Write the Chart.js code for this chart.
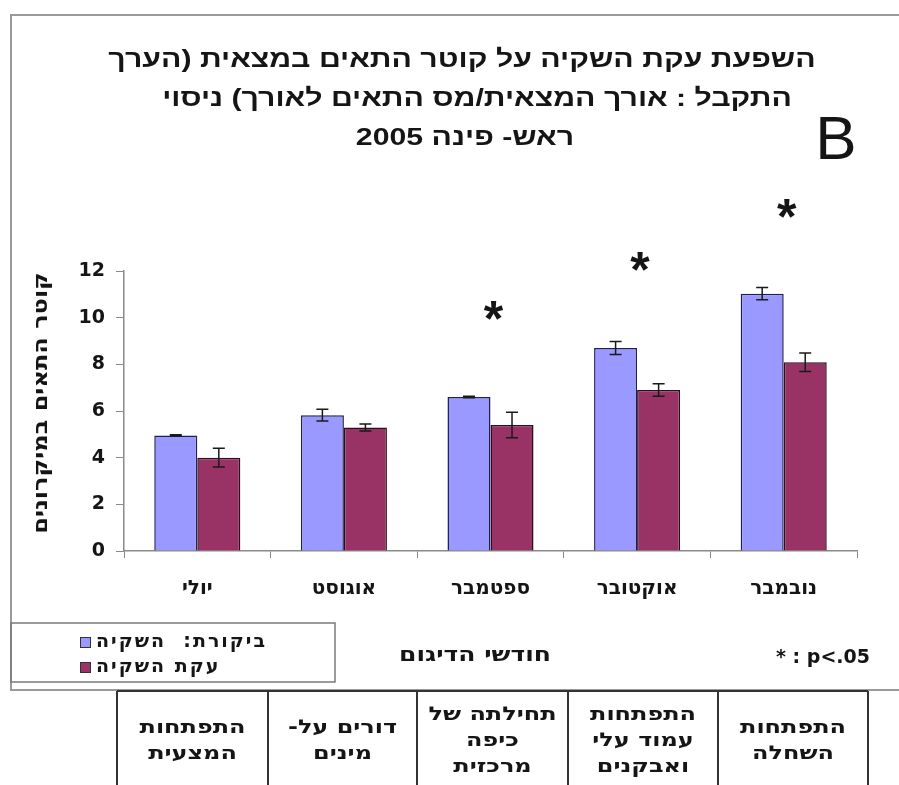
<!DOCTYPE html>
<html>
<head>
<meta charset="utf-8">
<script src="https://cdn.jsdelivr.net/npm/chart.js@4.4.1/dist/chart.umd.min.js"></script>
<style>
  html, body { margin: 0; padding: 0; background: #ffffff; }
  canvas { display: block; }
</style>
</head>
<body>
<canvas id="chart" width="899" height="785"></canvas>
<script>
// Sampling months (x categories)
const months = ['יולי', 'אוגוסט', 'ספטמבר', 'אוקטובר', 'נובמבר'];

// Series names
const seriesNames = ['ביקורת:  השקיה', 'עקת השקיה'];

// Cell diameter (microns): means and standard errors
const controlMeans = [4.95, 5.82, 6.6, 8.7, 11.03];
const controlErrors = [0.03, 0.25, 0.03, 0.28, 0.26];
const stressMeans = [4.0, 5.29, 5.4, 6.9, 8.09];
const stressErrors = [0.4, 0.15, 0.55, 0.27, 0.4];

// Height (in axis units) of the significance asterisk for each month
const significanceLevels = [null, null, 10.3, 12.4, 14.7];

// Y axis range
const yMin = 0;
const yMax = 12;
const yStep = 2;

// Texts
const titleLines = [
  'השפעת עקת השקיה על קוטר התאים במצאית (הערך',
  'התקבל : אורך המצאית/מס התאים לאורך) ניסוי',
  'ראש- פינה 2005'
];
const panelLetter = 'B';
const yTitle = 'קוטר התאים במיקרונים';
const xTitle = 'חודשי הדיגום';
const significanceNote = '* : p<.05';

// Developmental stage under each month
const stageLabels = [
  ['התפתחות', 'המצעית'],
  ['דורים על-', 'מינים'],
  ['תחילתה של', 'כיפה', 'מרכזית'],
  ['התפתחות', 'עמוד עלי', 'ואבקנים'],
  ['התפתחות', 'השחלה']
];

const seriesColors = ['#9999FF', '#993366'];
const seriesBorders = ['#1f1f55', '#2b0d1d'];
const errorSets = [controlErrors, stressErrors];

const WIDE = '"DejaVu Sans", sans-serif';
const ARIAL = '"Liberation Sans", Arial, sans-serif';
const INK = '#151515';
const FRAME = '#9a9a9a';

// Text drawn with a horizontal stretch (the Hebrew face here is wide)
function wideText(ctx, text, x, y, sx) {
  ctx.save();
  ctx.translate(x, y);
  ctx.scale(sx, 1);
  ctx.fillText(text, 0, 0);
  ctx.restore();
}

// Error bars drawn on top of each bar
const errorBarPlugin = {
  id: 'errorBars',
  afterDatasetsDraw(chart) {
    const ctx = chart.ctx;
    const y = chart.scales.y;
    ctx.save();
    ctx.strokeStyle = '#1a1a1a';
    ctx.lineWidth = 1.5;
    chart.data.datasets.forEach((ds, di) => {
      const meta = chart.getDatasetMeta(di);
      meta.data.forEach((bar, i) => {
        const v = ds.data[i];
        const e = errorSets[di][i];
        const top = y.getPixelForValue(v + e);
        const bot = y.getPixelForValue(v - e);
        const cap = 6;
        ctx.beginPath();
        ctx.moveTo(bar.x, top); ctx.lineTo(bar.x, bot);
        ctx.moveTo(bar.x - cap, top); ctx.lineTo(bar.x + cap, top);
        ctx.moveTo(bar.x - cap, bot); ctx.lineTo(bar.x + cap, bot);
        ctx.stroke();
      });
    });
    ctx.restore();
  }
};

// Frame, title, legend, notes and the stage table
const decorPlugin = {
  id: 'decor',
  afterDraw(chart) {
    const ctx = chart.ctx;
    const xs = chart.scales.x;
    const ys = chart.scales.y;
    ctx.save();

    // outer frame
    ctx.strokeStyle = FRAME;
    ctx.lineWidth = 2;
    ctx.beginPath();
    ctx.moveTo(899, 15); ctx.lineTo(11, 15); ctx.lineTo(11, 690); ctx.lineTo(899, 690);
    ctx.stroke();

    // title
    ctx.fillStyle = INK;
    ctx.direction = 'rtl';
    ctx.textAlign = 'center';
    ctx.textBaseline = 'alphabetic';
    ctx.font = 'bold 24px ' + ARIAL;
    const titleCenters = [462, 477, 465];
    const titleBase = [67, 106, 145];
    titleLines.forEach((t, i) => wideText(ctx, t, titleCenters[i], titleBase[i], 1.26));

    // panel letter
    ctx.direction = 'ltr';
    ctx.font = '62px ' + ARIAL;
    ctx.fillText(panelLetter, 836, 159);

    // significance asterisks
    ctx.font = 'bold 50px ' + ARIAL;
    const m = ctx.measureText('*');
    const starShift = (m.actualBoundingBoxAscent - m.actualBoundingBoxDescent) / 2;
    significanceLevels.forEach((lv, i) => {
      if (lv === null) return;
      ctx.fillText('*', xs.getPixelForValue(i) + 3, ys.getPixelForValue(lv) + starShift);
    });

    // y axis title
    ctx.save();
    ctx.translate(42, 403);
    ctx.rotate(-Math.PI / 2);
    ctx.direction = 'rtl';
    ctx.textAlign = 'center';
    ctx.textBaseline = 'middle';
    ctx.font = 'bold 20px ' + WIDE;
    wideText(ctx, yTitle, 0, 0, 1.2);
    ctx.restore();

    // legend box
    ctx.strokeStyle = '#7a7a7a';
    ctx.lineWidth = 1.5;
    ctx.strokeRect(11, 623, 324, 59);
    ctx.font = 'bold 19px ' + WIDE;
    ctx.textBaseline = 'middle';
    ctx.direction = 'rtl';
    const rows = [642, 667];
    seriesNames.forEach((name, i) => {
      ctx.fillStyle = seriesColors[i];
      ctx.fillRect(80, rows[i] - 5, 10, 10);
      ctx.strokeStyle = '#333';
      ctx.lineWidth = 1;
      ctx.strokeRect(80.5, rows[i] - 4.5, 10, 10);
      ctx.fillStyle = INK;
      ctx.textAlign = 'left';
      ctx.letterSpacing = '2px';
      ctx.fillText(name, 96, rows[i]);
      ctx.letterSpacing = '0px';
    });

    // x axis title
    ctx.textAlign = 'center';
    ctx.font = 'bold 20px ' + WIDE;
    wideText(ctx, xTitle, 475, 656, 1.25);

    // significance note
    ctx.direction = 'ltr';
    ctx.textAlign = 'right';
    ctx.font = 'bold 19px ' + WIDE;
    ctx.fillText(significanceNote, 870, 658);

    // stage table
    const cellEdges = [117, 268, 417, 568, 718, 868];
    ctx.strokeStyle = '#333';
    ctx.lineWidth = 2;
    ctx.beginPath();
    ctx.moveTo(117, 691); ctx.lineTo(868, 691);
    cellEdges.forEach(x => { ctx.moveTo(x, 691); ctx.lineTo(x, 785); });
    ctx.stroke();
    ctx.fillStyle = INK;
    ctx.direction = 'rtl';
    ctx.textAlign = 'center';
    ctx.font = 'bold 19px ' + WIDE;
    stageLabels.forEach((lines, i) => {
      const cx = (cellEdges[i] + cellEdges[i + 1]) / 2;
      const start = 741 - (lines.length - 1) * 13;
      lines.forEach((ln, k) => wideText(ctx, ln, cx, start + k * 26, 1.26));
    });

    ctx.restore();
  }
};

new Chart(document.getElementById('chart'), {
  type: 'bar',
  data: {
    labels: months,
    datasets: seriesNames.map((name, i) => ({
      label: name,
      data: i === 0 ? controlMeans : stressMeans,
      backgroundColor: seriesColors[i],
      borderColor: seriesBorders[i],
      borderWidth: 1.5,
      categoryPercentage: 0.587,
      barPercentage: 1.0
    }))
  },
  options: {
    responsive: false,
    animation: false,
    devicePixelRatio: 1,
    layout: { padding: { left: 0, right: 42, top: 271, bottom: 0 } },
    plugins: {
      legend: { display: false },
      tooltip: { enabled: false },
      title: { display: false }
    },
    scales: {
      x: {
        grid: { display: true, drawOnChartArea: false, drawTicks: true, tickLength: 7, color: '#8a8a8a', offset: true },
        border: { display: true, color: '#8a8a8a', width: 1.5 },
        ticks: { color: INK, padding: 19, font: { family: WIDE, size: 20, weight: 'bold' } },
        afterFit(s) { s.height = 234; }
      },
      y: {
        min: yMin,
        max: yMax,
        grid: { display: true, drawOnChartArea: false, drawTicks: true, tickLength: 8, color: '#8a8a8a' },
        border: { display: true, color: '#8a8a8a', width: 1.5 },
        ticks: { stepSize: yStep, color: INK, padding: 11, font: { family: WIDE, size: 19, weight: 'bold' } },
        afterFit(s) { s.width = 124; }
      }
    }
  },
  plugins: [errorBarPlugin, decorPlugin]
});
</script>
</body>
</html>
